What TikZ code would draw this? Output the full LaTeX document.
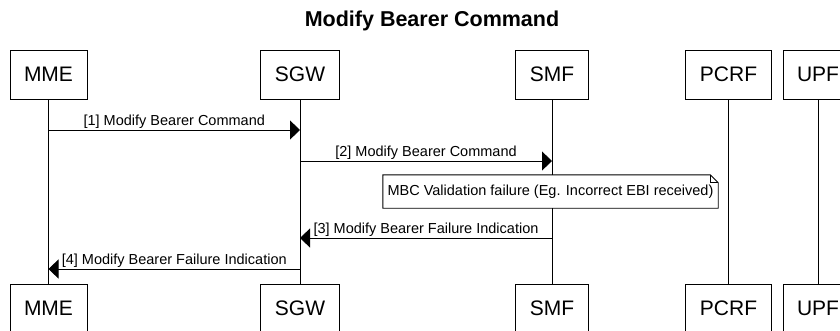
\documentclass[tikz,border=0pt]{standalone}
\usepackage{fontspec}
\setmainfont{Liberation Sans}
\usetikzlibrary{arrows.meta,positioning,calc}

\begin{document}
\begin{tikzpicture}[x=1pt,y=-1pt,
  actor/.style={draw,line width=0.9pt,inner xsep=14pt,minimum height=49pt,
                font=\fontsize{21}{25}\selectfont},
  life/.style={line width=0.9pt},
  msg/.style={-{Triangle[length=10pt,width=19pt]},line width=0.9pt},
  lbl/.style={midway,anchor=south,inner sep=0pt,yshift=1pt,
              font=\fontsize{14.5}{17}\selectfont},
  notebox/.style={fill=white,minimum width=335pt,minimum height=33pt,
              inner sep=0pt,font=\fontsize{14.5}{17}\selectfont}]
\clip (0,0) rectangle (840,330);
% title
\node[font=\fontsize{21.5}{26}\selectfont\bfseries,anchor=base]
  (ttl) at (432,26.7) {Modify Bearer Command};
% participants, top row
\node[actor] (mme)  at (48.5,74.5) {MME};
\node[actor] (sgw)  at (300,74.5)  {SGW};
\node[actor] (smf)  at (552,74.5)  {SMF};
\node[actor] (pcrf) at (728.5,74.5) {PCRF};
\node[actor] (upf)  at (818,74.5)  {UPF};
% participants, bottom row
\node[actor] (mmeB)  at (48.5,308.5) {MME};
\node[actor] (sgwB)  at (300,308.5)  {SGW};
\node[actor] (smfB)  at (552,308.5)  {SMF};
\node[actor] (pcrfB) at (728.5,308.5) {PCRF};
\node[actor] (upfB)  at (818,308.5)  {UPF};
% lifelines
\foreach \p in {mme,sgw,smf,pcrf,upf}
  \draw[life] (\p.south) -- (\p B.north);
% messages
\draw[msg] (mme |- 0,130) -- node[lbl]{[1] Modify Bearer Command} (sgw |- 0,130);
\draw[msg] (sgw |- 0,161) -- node[lbl]{[2] Modify Bearer Command} (smf |- 0,161);
% note on SMF
\node[notebox] (chk) at (550.5,191.5)
  {MBC Validation failure (Eg. Incorrect EBI received)};
\draw[life] (chk.north west) -- ([xshift=-8pt]chk.north east)
  -- ([yshift=-8pt]chk.north east) -- (chk.south east) -- (chk.south west) -- cycle;
\draw[life] ([xshift=-8pt]chk.north east) -- ++(0,8) -- ++(8,0);
\draw[msg] (smf |- 0,238) -- node[lbl]{[3] Modify Bearer Failure Indication} (sgw |- 0,238);
\draw[msg] (sgw |- 0,269) -- node[lbl]{[4] Modify Bearer Failure Indication} (mme |- 0,269);
\end{tikzpicture}
\end{document}
